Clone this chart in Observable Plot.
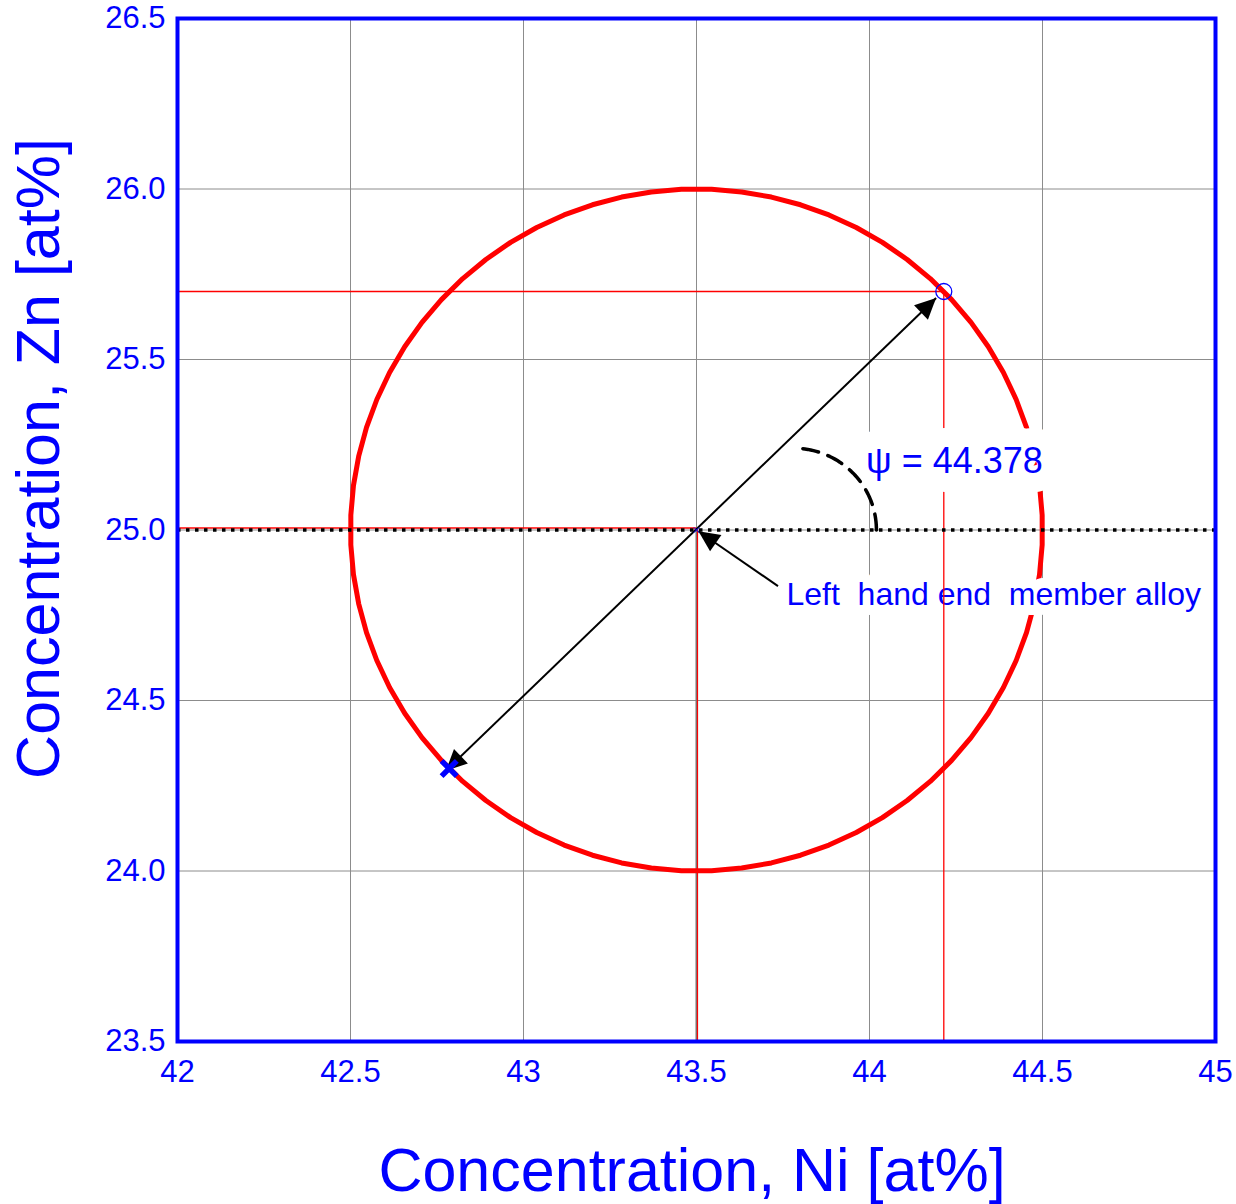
<!DOCTYPE html>
<html><head><meta charset="utf-8">
<script src="https://cdn.jsdelivr.net/npm/d3@7"></script>
<script src="https://cdn.jsdelivr.net/npm/@observablehq/plot@0.6"></script>
<style>
html,body{margin:0;padding:0;background:#fff;}
svg text{white-space:pre;}
</style></head><body><div id="chart"></div>
<script>
// ---- data ----
const xDomain = [42, 45];
const yDomain = [23.5, 26.5];
const xTicks = [42, 42.5, 43, 43.5, 44, 44.5, 45];
const xTickLabels = ["42", "42.5", "43", "43.5", "44", "44.5", "45"];
const yTicks = [23.5, 24, 24.5, 25, 25.5, 26, 26.5];
const yTickLabels = ["23.5", "24.0", "24.5", "25.0", "25.5", "26.0", "26.5"];
const center = [43.5, 25.0];          // left hand end member alloy (Ni, Zn)
const radius = [1.0];                 // at%
const circleSides = [72];
const circleStartDeg = [2.5];
const psiDeg = [44.378];
const arcCenter = [43.78, 25.0];
const arcRadius = [0.24];
const psiLabel = ["ψ = 44.378"];
const psiLabelPos = [43.99, 25.20];
const memberLabel = ["Left  hand end  member alloy"];
const memberLabelPos = [43.76, 24.81];
const memberArrowTail = [43.737, 24.834];
const xLabel = ["Concentration, Ni [at%]"];
const yLabel = ["Concentration, Zn [at%]"];

// ---- derived ----
const rad = Math.PI / 180;
const circlePts = d3.range(circleSides[0] + 1).map(k => {
  const a = (circleStartDeg[0] + k * 360 / circleSides[0]) * rad;
  return {x: center[0] + radius[0] * Math.cos(a), y: center[1] + radius[0] * Math.sin(a)};
});
const psi = psiDeg[0] * rad;
const pt = {x: center[0] + radius[0] * Math.cos(psi), y: center[1] + radius[0] * Math.sin(psi)};
const opp = {x: center[0] - radius[0] * Math.cos(psi), y: center[1] - radius[0] * Math.sin(psi)};
const arcPts = d3.range(0, 91, 2).map(d => ({
  x: arcCenter[0] + arcRadius[0] * Math.cos(d * rad),
  y: arcCenter[1] + arcRadius[0] * Math.sin(d * rad)
}));

const BLUE = "#0000ff";
const FONT = "'Liberation Sans', Arial, Helvetica, sans-serif";
const NS = "http://www.w3.org/2000/svg";

function arrowsMark(segs) {
  return (index, scales) => {
    const g = document.createElementNS(NS, "g");
    for (const s of segs) {
      let x1 = scales.x(s.x1), y1 = scales.y(s.y1), x2 = scales.x(s.x2), y2 = scales.y(s.y2);
      const L = Math.hypot(x2 - x1, y2 - y1), ux = (x2 - x1) / L, uy = (y2 - y1) / L;
      x1 += ux * s.trim1; y1 += uy * s.trim1; x2 -= ux * s.trim2; y2 -= uy * s.trim2;
      const ln = document.createElementNS(NS, "line");
      ln.setAttribute("x1", x1); ln.setAttribute("y1", y1);
      ln.setAttribute("x2", x2); ln.setAttribute("y2", y2);
      ln.setAttribute("stroke", "black"); ln.setAttribute("stroke-width", 2);
      g.appendChild(ln);
      const head = (tx, ty, dx, dy) => {
        const hl = 21, hw = 10;
        const bx = tx - dx * hl, by = ty - dy * hl;
        const p = document.createElementNS(NS, "polygon");
        p.setAttribute("points", `${tx},${ty} ${bx - dy * hw},${by + dx * hw} ${bx + dy * hw},${by - dx * hw}`);
        p.setAttribute("fill", "black");
        g.appendChild(p);
      };
      if (s.head2) head(x2, y2, ux, uy);
      if (s.head1) head(x1, y1, -ux, -uy);
    }
    return g;
  };
}

function axisTitlesMark() {
  return (index, scales, values, dimensions) => {
    const {width, height, marginLeft, marginRight, marginTop, marginBottom} = dimensions;
    const g = document.createElementNS(NS, "g");
    const midX = (marginLeft + width - marginRight) / 2;
    const midY = (marginTop + height - marginBottom) / 2;
    const tx = document.createElementNS(NS, "text");
    tx.setAttribute("x", midX - 4);
    tx.setAttribute("y", height - marginBottom + 150);
    tx.setAttribute("text-anchor", "middle");
    tx.setAttribute("font-size", 61);
    tx.setAttribute("fill", BLUE);
    tx.textContent = xLabel[0];
    g.appendChild(tx);
    const ty = document.createElementNS(NS, "text");
    ty.setAttribute("transform", `translate(${marginLeft - 118},${midY - 71}) rotate(-90)`);
    ty.setAttribute("text-anchor", "middle");
    ty.setAttribute("font-size", 61);
    ty.setAttribute("fill", BLUE);
    ty.textContent = yLabel[0];
    g.appendChild(ty);
    return g;
  };
}

const chart = Plot.plot({
  width: 1236,
  height: 1204,
  marginLeft: 177,
  marginRight: 21,
  marginTop: 18,
  marginBottom: 163,
  style: {fontFamily: FONT, background: "white", overflow: "visible"},
  x: {domain: xDomain},
  y: {domain: yDomain},
  marks: [
    Plot.gridX(xTicks, {stroke: "#8c8c8c", strokeOpacity: 1, strokeWidth: 1}),
    Plot.gridY(yTicks, {stroke: "#8c8c8c", strokeOpacity: 1, strokeWidth: 1}),
    Plot.ruleX([center[0]], {y1: yDomain[0], y2: center[1], stroke: "#777", strokeWidth: 2}),
    Plot.line(circlePts, {x: "x", y: "y", stroke: "red", strokeWidth: 5, strokeLinejoin: "round"}),
    Plot.text([{x: memberLabelPos[0], y: memberLabelPos[1], t: memberLabel[0]}],
      {x: "x", y: "y", text: "t", textAnchor: "start", fontSize: 32, fill: BLUE,
       stroke: "white", strokeWidth: 20, strokeLinejoin: "round"}),
    // red guide lines
    Plot.ruleY([{y: center[1], x1: xDomain[0], x2: center[0]}], {y: "y", x1: "x1", x2: "x2", stroke: "red", strokeWidth: 1.3, dy: -2}),
    Plot.ruleY([{y: pt.y, x1: xDomain[0], x2: pt.x}], {y: "y", x1: "x1", x2: "x2", stroke: "red", strokeWidth: 1.3}),
    Plot.ruleX([{x: pt.x, y1: yDomain[0], y2: pt.y}], {x: "x", y1: "y1", y2: "y2", stroke: "red", strokeWidth: 1.3}),
    Plot.ruleX([{x: center[0], y1: yDomain[0], y2: center[1]}], {x: "x", y1: "y1", y2: "y2", stroke: "red", strokeWidth: 1.2, dx: 1}),
    // dotted reference line
    Plot.ruleY([center[1]], {stroke: "black", strokeWidth: 3.5, strokeDasharray: "3.5,5.5"}),
    // psi label
    Plot.text([{x: psiLabelPos[0], y: psiLabelPos[1], t: psiLabel[0]}],
      {x: "x", y: "y", text: "t", textAnchor: "start", fontSize: 36, fill: BLUE,
       stroke: "white", strokeWidth: 38, strokeLinejoin: "round"}),
    // dashed angle arc
    Plot.line(arcPts, {x: "x", y: "y", stroke: "black", strokeWidth: 3.5, strokeDasharray: "16,10"}),
    // arrows
    arrowsMark([
      {x1: opp.x, y1: opp.y, x2: pt.x, y2: pt.y, trim1: -4, trim2: 10, head1: true, head2: true},
      {x1: memberArrowTail[0], y1: memberArrowTail[1], x2: center[0], y2: center[1], trim1: 0, trim2: 3, head1: false, head2: true}
    ]),
    // markers
    Plot.dot([pt], {x: "x", y: "y", r: 8, stroke: BLUE, strokeWidth: 1.3, fill: "none"}),
    Plot.dot([opp], {x: "x", y: "y", r: 7, symbol: "times", stroke: BLUE, strokeWidth: 5.5}),
    Plot.dot([{x: center[0], y: center[1]}], {x: "x", y: "y", r: 2.5, symbol: "times", stroke: BLUE, strokeWidth: 1}),
    // frame
    Plot.frame({stroke: BLUE, strokeWidth: 4}),
    // axes
    Plot.axisX(xTicks, {tickFormat: d => xTickLabels[xTicks.indexOf(d)], tickSize: 0, tickPadding: 18, color: BLUE, fontSize: 31, label: null}),
    Plot.axisY(yTicks, {tickFormat: d => yTickLabels[yTicks.indexOf(d)], tickSize: 0, tickPadding: 12, color: BLUE, fontSize: 31, label: null}),
    axisTitlesMark()
  ]
});
document.getElementById("chart").appendChild(chart);
</script>
</body></html>
